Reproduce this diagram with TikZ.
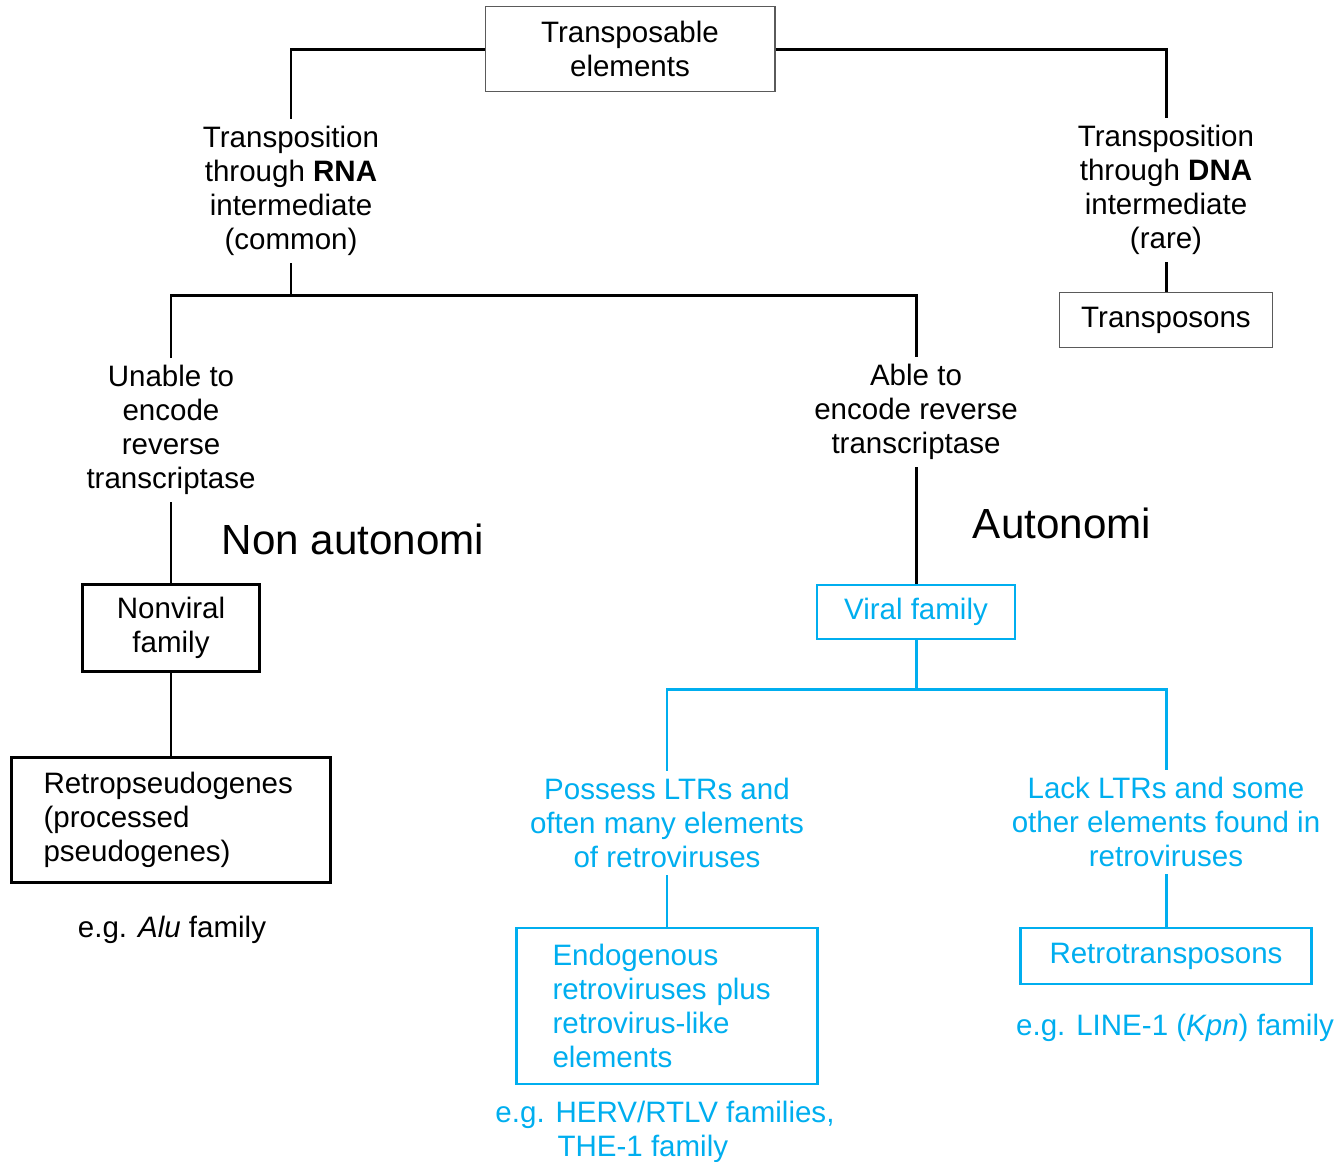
\documentclass[tikz,border=0pt]{standalone}
\usepackage{fontspec}
\setmainfont{Liberation Sans}
\usepackage{xcolor}
\definecolor{Vircolor}{RGB}{0,174,239}
\definecolor{Boxgray}{RGB}{90,90,90}
\usetikzlibrary{positioning}
\newcommand{\lblsize}{\fontsize{16.8}{19.3}\selectfont}

\begin{document}
\begin{tikzpicture}[x=0.02cm, y=-0.02cm,
  lbl/.style={align=center, font=\lblsize, inner sep=4pt},
  thinbox/.style={rectangle, draw=Boxgray, line width=0.6pt,
                  align=center, font=\lblsize},
  thickbox/.style={rectangle, draw=black, line width=1.7pt,
                   align=center, font=\lblsize},
  virbox/.style={rectangle, draw=Vircolor, line width=1.5pt,
                 text=Vircolor, align=center, font=\lblsize},
  link/.style={draw=black, line width=1.7pt},
  vlink/.style={draw=Vircolor, line width=1.7pt},
  big/.style={font=\fontsize{24}{28}\selectfont}
]
\useasboundingbox (0,0) rectangle (1343,1161);

%% Top level
\node[thinbox, minimum width=5.8cm, minimum height=1.7cm] (te) at (630,49)
  {Transposable\\elements};

\node[lbl] (rna) at (291,191)
  {Transposition\\through \textbf{RNA}\\intermediate\\(common)};
\node[lbl] (dna) at (1166,190)
  {Transposition\\through \textbf{DNA}\\intermediate\\(rare)};

\draw[link] (te.west) -| (rna.north);
\draw[link] (te.east) -| (dna.north);

%% DNA branch
\node[thinbox, minimum width=4.26cm, minimum height=1.1cm] (tposons) at (1166,320)
  {Transposons};
\draw[link] (dna.south) -- (tposons.north);

%% RNA branch
\coordinate (rnasplit) at (291,295);
\node[lbl] (unable) at (171,430)
  {Unable to\\encode\\reverse\\transcriptase};
\node[lbl] (able) at (916,412)
  {Able to\\encode reverse\\transcriptase};
\draw[link] (rna.south) -- (rnasplit);
\draw[link] (unable.north) |- (rnasplit) -| (able.north);

\node[big] (nonauto) at (353,539) {Non autonomi};
\node[big] (auto) at (1062,523) {Autonomi};

%% Non autonomous side
\node[thickbox, minimum width=3.54cm, minimum height=1.74cm] (nonviral) at (171,628)
  {Nonviral\\family};
\node[thickbox, align=left, text width=5.1cm, inner xsep=0.65cm,
      minimum height=2.5cm] (pseudo) at (171,820)
  {Retropseudogenes\\(processed\\pseudogenes)};
\node[lbl] (alu) at (172,930) {e.g. \textit{Alu} family};
\draw[link] (unable.south) -- (nonviral.north);
\draw[link] (nonviral.south) -- (pseudo.north);

%% Autonomous side
\node[virbox, minimum width=3.96cm, minimum height=1.08cm] (viral) at (916,612)
  {Viral family};
\draw[link] (able.south) -- (viral.north);

\coordinate (virsplit) at (916,689);
\node[lbl, text=Vircolor] (ltr) at (667,823)
  {Possess LTRs and\\often many elements\\of retroviruses};
\node[lbl, text=Vircolor] (noltr) at (1166,822)
  {Lack LTRs and some\\other elements found in\\retroviruses};
\draw[vlink] (viral.south) -- (virsplit);
\draw[vlink] (ltr.north) |- (virsplit) -| (noltr.north);

\node[virbox, align=left, text width=4.58cm, inner xsep=0.72cm,
      minimum height=3.12cm] (erv) at (667,1006)
  {Endogenous\\retroviruses plus\\retrovirus-like\\elements};
\node[virbox, minimum width=5.82cm, minimum height=1.12cm] (rtposons) at (1166,956)
  {Retrotransposons};
\draw[vlink] (ltr.south) -- (erv.north);
\draw[vlink] (noltr.south) -- (rtposons.north);

\node[lbl, text=Vircolor] (herv) at (665,1132)
  {e.g. HERV/RTLV families,\\THE-1 family\hspace*{1.5em}};
\node[lbl, text=Vircolor] (line1) at (1175,1028)
  {e.g. LINE-1 (\textit{Kpn}) family};

\end{tikzpicture}
\end{document}
